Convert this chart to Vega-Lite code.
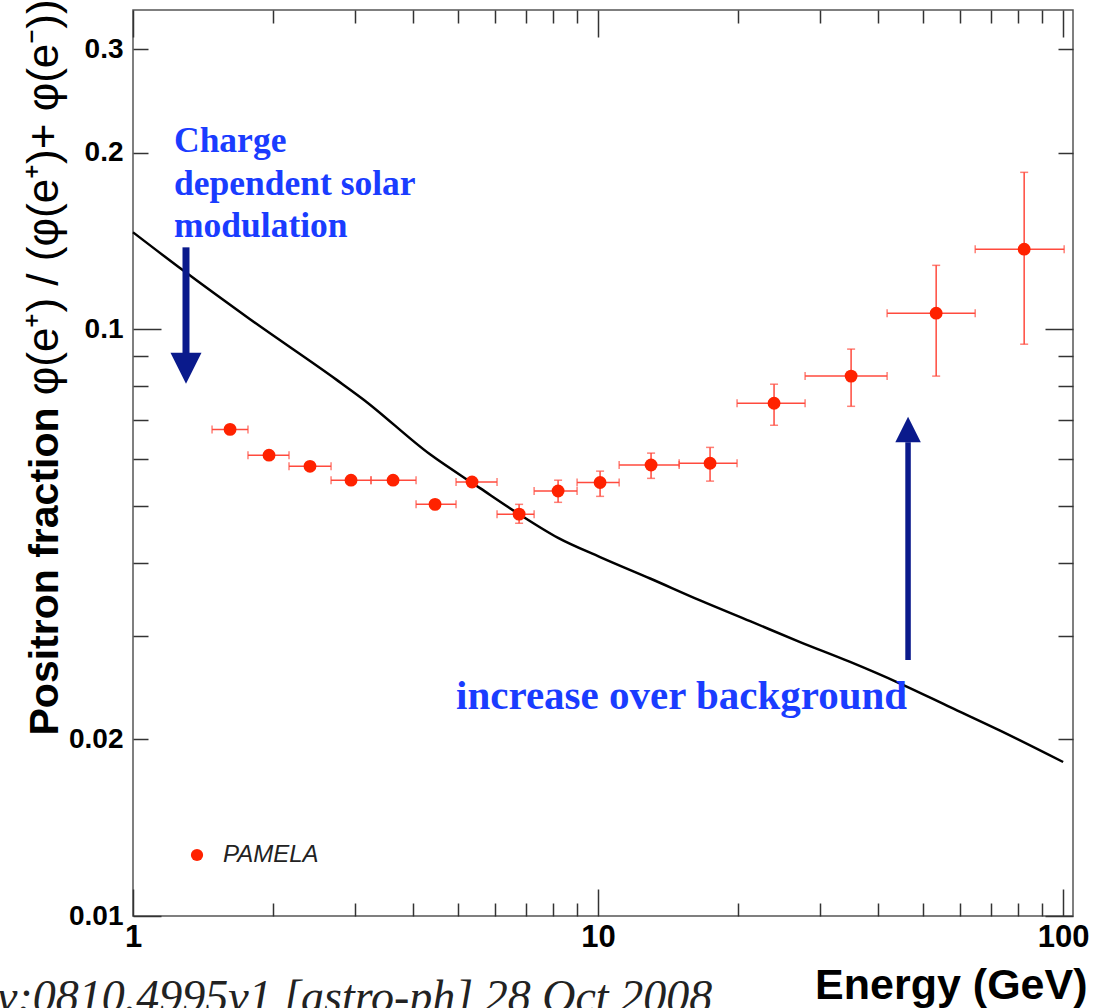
{
  "$schema": "https://vega.github.io/schema/vega-lite/v6.json",
  "width": 940,
  "height": 906,
  "autosize": {"type": "none"},
  "padding": {"left": 133, "top": 10, "right": 26, "bottom": 92},
  "background": "white",
  "config": {
    "view": {"stroke": "#555", "strokeWidth": 1.5},
    "axis": {"grid": false, "domain": false, "tickColor": "#333", "tickWidth": 1.5, "labelFont": "Liberation Sans", "labelFontWeight": "bold", "labelColor": "#000", "titleFont": "Liberation Sans", "titleColor": "#000", "labelOverlap": false, "labelBound": false, "labelFlush": false}
  },
  "datasets": {
    "pamela": [
      {"series": "PAMELA", "E": 1.617, "Elo": 1.479, "Ehi": 1.767, "f": 0.0675, "flo": 0.0665, "fhi": 0.0685},
      {"series": "PAMELA", "E": 1.961, "Elo": 1.767, "Ehi": 2.165, "f": 0.0610, "flo": 0.0601, "fhi": 0.0619},
      {"series": "PAMELA", "E": 2.402, "Elo": 2.165, "Ehi": 2.666, "f": 0.0584, "flo": 0.0575, "fhi": 0.0593},
      {"series": "PAMELA", "E": 2.943, "Elo": 2.666, "Ehi": 3.249, "f": 0.0553, "flo": 0.0545, "fhi": 0.0561},
      {"series": "PAMELA", "E": 3.624, "Elo": 3.249, "Ehi": 4.061, "f": 0.0553, "flo": 0.0545, "fhi": 0.0561},
      {"series": "PAMELA", "E": 4.461, "Elo": 4.061, "Ehi": 4.950, "f": 0.0503, "flo": 0.0495, "fhi": 0.0511},
      {"series": "PAMELA", "E": 5.358, "Elo": 4.950, "Ehi": 6.064, "f": 0.0549, "flo": 0.0541, "fhi": 0.0557},
      {"series": "PAMELA", "E": 6.764, "Elo": 6.064, "Ehi": 7.286, "f": 0.0484, "flo": 0.0467, "fhi": 0.0503},
      {"series": "PAMELA", "E": 8.204, "Elo": 7.286, "Ehi": 9.013, "f": 0.0530, "flo": 0.0507, "fhi": 0.0553},
      {"series": "PAMELA", "E": 10.10, "Elo": 9.013, "Ehi": 11.10, "f": 0.0548, "flo": 0.0519, "fhi": 0.0573},
      {"series": "PAMELA", "E": 13.00, "Elo": 11.10, "Ehi": 14.94, "f": 0.0587, "flo": 0.0557, "fhi": 0.0615},
      {"series": "PAMELA", "E": 17.41, "Elo": 14.94, "Ehi": 19.90, "f": 0.0591, "flo": 0.0551, "fhi": 0.0629},
      {"series": "PAMELA", "E": 23.90, "Elo": 19.90, "Ehi": 27.87, "f": 0.0748, "flo": 0.0686, "fhi": 0.0806},
      {"series": "PAMELA", "E": 35.00, "Elo": 27.87, "Ehi": 41.83, "f": 0.0832, "flo": 0.0739, "fhi": 0.0925},
      {"series": "PAMELA", "E": 53.33, "Elo": 41.83, "Ehi": 64.70, "f": 0.1065, "flo": 0.0832, "fhi": 0.1285},
      {"series": "PAMELA", "E": 82.45, "Elo": 64.70, "Ehi": 100.5, "f": 0.1369, "flo": 0.0943, "fhi": 0.1851}
    ],
    "curve": [
      {"E": 1.0, "f": 0.1463},
      {"E": 1.281, "f": 0.1260},
      {"E": 1.785, "f": 0.1040},
      {"E": 2.746, "f": 0.0819},
      {"E": 3.123, "f": 0.0760},
      {"E": 4.352, "f": 0.0612},
      {"E": 5.575, "f": 0.0536},
      {"E": 6.764, "f": 0.0484},
      {"E": 8.204, "f": 0.0441},
      {"E": 10.10, "f": 0.0409},
      {"E": 12.94, "f": 0.0376},
      {"E": 16.57, "f": 0.0345},
      {"E": 21.23, "f": 0.0318},
      {"E": 27.19, "f": 0.0293},
      {"E": 34.83, "f": 0.0271},
      {"E": 44.62, "f": 0.0249},
      {"E": 57.15, "f": 0.0227},
      {"E": 73.20, "f": 0.0207},
      {"E": 100.0, "f": 0.0183}
    ]
  },
  "resolve": {"axis": {"x": "independent", "y": "independent"}},
  "layer": [
    {
      "data": {"name": "curve"},
      "mark": {"type": "line", "color": "#000", "strokeWidth": 2.5, "interpolate": "monotone"},
      "encoding": {
        "x": {"field": "E", "type": "quantitative", "scale": {"type": "log", "domain": [1, 105], "nice": false},
          "axis": {"orient": "bottom", "values": [1, 10, 100], "ticks": false, "labelPadding": 6, "labelFontSize": 31, "format": "~g",
            "title": "Energy (GeV)", "titleFontSize": 43, "titleFontWeight": "bold", "titleX": 954, "titleY": 82, "titleAlign": "right", "titleBaseline": "alphabetic", "titleAnchor": "end"}},
        "y": {"field": "f", "type": "quantitative", "scale": {"type": "log", "domain": [0.01, 0.35], "nice": false},
          "axis": {"orient": "left", "values": [0.01, 0.02, 0.1, 0.2, 0.3], "ticks": false, "labelPadding": 10, "labelFontSize": 28, "format": "~g",
            "title": "Positron fraction", "titleFontSize": 41, "titleFontWeight": "bold", "titleX": -88, "titleY": 725, "titleAngle": 270, "titleAlign": "left", "titleBaseline": "middle"}}
      }
    },
    {
      "data": {"name": "pamela"},
      "mark": {"type": "errorbar", "color": "#ff4a3d", "thickness": 1.5, "ticks": {"size": 8, "thickness": 1.5, "color": "#ff4a3d"}},
      "encoding": {
        "x": {"field": "Elo", "type": "quantitative", "scale": {"type": "log", "domain": [1, 105], "nice": false}, "axis": null},
        "x2": {"field": "Ehi"},
        "y": {"field": "f", "type": "quantitative", "scale": {"type": "log", "domain": [0.01, 0.35], "nice": false}, "axis": null}
      }
    },
    {
      "data": {"name": "pamela"},
      "mark": {"type": "errorbar", "color": "#ff4a3d", "thickness": 1.5, "ticks": {"size": 8, "thickness": 1.5, "color": "#ff4a3d"}},
      "encoding": {
        "y": {"field": "flo", "type": "quantitative", "scale": {"type": "log", "domain": [0.01, 0.35], "nice": false}, "axis": null},
        "y2": {"field": "fhi"},
        "x": {"field": "E", "type": "quantitative", "scale": {"type": "log", "domain": [1, 105], "nice": false}, "axis": null}
      }
    },
    {
      "data": {"name": "pamela"},
      "mark": {"type": "point", "filled": true, "size": 165, "opacity": 1, "shape": "circle"},
      "encoding": {
        "x": {"field": "E", "type": "quantitative", "scale": {"type": "log", "domain": [1, 105], "nice": false}, "axis": null},
        "y": {"field": "f", "type": "quantitative", "scale": {"type": "log", "domain": [0.01, 0.35], "nice": false}, "axis": null},
        "color": {"field": "series", "type": "nominal", "scale": {"domain": ["PAMELA"], "range": ["#ff2200"]},
          "legend": {"orient": "none", "legendX": 52, "legendY": 833, "title": null, "symbolSize": 150, "symbolType": "circle", "labelFontSize": 24, "labelFontStyle": "italic", "labelFont": "Liberation Sans", "labelFontWeight": "normal", "labelColor": "#222", "labelOffset": 14, "padding": 0}}
      }
    },
    {
      "data": {"values": [{"x": 1.3, "y1": 0.1379, "y2": 0.0910}]},
      "mark": {"type": "rule", "color": "#0a1a8c", "strokeWidth": 7},
      "encoding": {
        "x": {"field": "x", "type": "quantitative", "scale": {"type": "log", "domain": [1, 105], "nice": false},
          "axis": {"orient": "bottom", "values": [1, 10, 100], "labels": false, "tickSize": -27, "title": null}},
        "y": {"field": "y1", "type": "quantitative", "scale": {"type": "log", "domain": [0.01, 0.35], "nice": false},
          "axis": {"orient": "left", "values": [0.01, 0.1], "labels": false, "tickSize": -28, "title": null}},
        "y2": {"field": "y2"}
      }
    },
    {
      "data": {"values": [{"x": 1.3, "y": 0.0858}]},
      "mark": {"type": "point", "shape": "M -1 -1 L 1 -1 L 0 1 Z", "size": 961, "filled": true, "opacity": 1, "color": "#0a1a8c", "strokeWidth": 0},
      "encoding": {
        "x": {"field": "x", "type": "quantitative", "scale": {"type": "log", "domain": [1, 105], "nice": false},
          "axis": {"orient": "bottom", "values": [2, 3, 4, 5, 6, 7, 8, 9, 20, 30, 40, 50, 60, 70, 80, 90], "labels": false, "tickSize": -13, "title": null}},
        "y": {"field": "y", "type": "quantitative", "scale": {"type": "log", "domain": [0.01, 0.35], "nice": false},
          "axis": {"orient": "left", "values": [0.02, 0.03, 0.04, 0.05, 0.06, 0.07, 0.08, 0.09, 0.2, 0.3], "labels": false, "tickSize": -15, "title": null}}
      }
    },
    {
      "data": {"values": [{"x": 46.4, "y1": 0.0273, "y2": 0.0642}]},
      "mark": {"type": "rule", "color": "#0a1a8c", "strokeWidth": 5.5},
      "encoding": {
        "x": {"field": "x", "type": "quantitative", "scale": {"type": "log", "domain": [1, 105], "nice": false},
          "axis": {"orient": "top", "values": [1, 10, 100], "labels": false, "tickSize": -27, "title": null}},
        "y": {"field": "y1", "type": "quantitative", "scale": {"type": "log", "domain": [0.01, 0.35], "nice": false},
          "axis": {"orient": "right", "values": [0.01, 0.1], "labels": false, "tickSize": -28, "title": null}},
        "y2": {"field": "y2"}
      }
    },
    {
      "data": {"values": [{"x": 46.4, "y": 0.0675}]},
      "mark": {"type": "point", "shape": "M -1 1 L 1 1 L 0 -1 Z", "size": 650, "filled": true, "opacity": 1, "color": "#0a1a8c", "strokeWidth": 0},
      "encoding": {
        "x": {"field": "x", "type": "quantitative", "scale": {"type": "log", "domain": [1, 105], "nice": false},
          "axis": {"orient": "top", "values": [2, 3, 4, 5, 6, 7, 8, 9, 20, 30, 40, 50, 60, 70, 80, 90], "labels": false, "tickSize": -13, "title": null}},
        "y": {"field": "y", "type": "quantitative", "scale": {"type": "log", "domain": [0.01, 0.35], "nice": false},
          "axis": {"orient": "right", "values": [0.02, 0.03, 0.04, 0.05, 0.06, 0.07, 0.08, 0.09, 0.2, 0.3], "labels": false, "tickSize": -15, "title": null}}
      }
    },
    {
      "data": {"values": [
        {"x": 1.225, "y": 0.2002, "t": "Charge"},
        {"x": 1.225, "y": 0.1692, "t": "dependent solar"},
        {"x": 1.225, "y": 0.1434, "t": "modulation"}
      ]},
      "mark": {"type": "text", "align": "left", "baseline": "alphabetic", "font": "Liberation Serif", "fontSize": 35.5, "fontWeight": "bold", "color": "#1a3cff"},
      "encoding": {
        "x": {"field": "x", "type": "quantitative", "scale": {"type": "log", "domain": [1, 105], "nice": false}, "axis": null},
        "y": {"field": "y", "type": "quantitative", "scale": {"type": "log", "domain": [0.01, 0.35], "nice": false}, "axis": null},
        "text": {"field": "t"}
      }
    },
    {
      "data": {"values": [{"x": 4.95, "y": 0.02253, "t": "increase over background"}]},
      "mark": {"type": "text", "align": "left", "baseline": "alphabetic", "font": "Liberation Serif", "fontSize": 41, "fontWeight": "bold", "color": "#1a3cff"},
      "encoding": {
        "x": {"field": "x", "type": "quantitative", "scale": {"type": "log", "domain": [1, 105], "nice": false}, "axis": null},
        "y": {"field": "y", "type": "quantitative", "scale": {"type": "log", "domain": [0.01, 0.35], "nice": false}, "axis": null},
        "text": {"field": "t"}
      }
    },
    {
      "data": {"values": [{"x": 0.647, "y": 0.0772, "t": "φ(e⁺) / (φ(e⁺)+ φ(e⁻))"}]},
      "mark": {"type": "text", "align": "left", "baseline": "middle", "angle": 270, "font": "Liberation Sans", "fontSize": 44, "color": "#000"},
      "encoding": {
        "x": {"field": "x", "type": "quantitative", "scale": {"type": "log", "domain": [1, 105], "nice": false}, "axis": null},
        "y": {"field": "y", "type": "quantitative", "scale": {"type": "log", "domain": [0.01, 0.35], "nice": false}, "axis": null},
        "text": {"field": "t"}
      }
    },
    {
      "data": {"values": [{"x": 17.59, "y": 0.00685, "t": "arXiv:0810.4995v1 [astro-ph] 28 Oct 2008"}]},
      "mark": {"type": "text", "align": "right", "baseline": "alphabetic", "font": "Liberation Serif", "fontSize": 46, "fontStyle": "italic", "color": "#222"},
      "encoding": {
        "x": {"field": "x", "type": "quantitative", "scale": {"type": "log", "domain": [1, 105], "nice": false}, "axis": null},
        "y": {"field": "y", "type": "quantitative", "scale": {"type": "log", "domain": [0.01, 0.35], "nice": false}, "axis": null},
        "text": {"field": "t"}
      }
    }
  ]
}
